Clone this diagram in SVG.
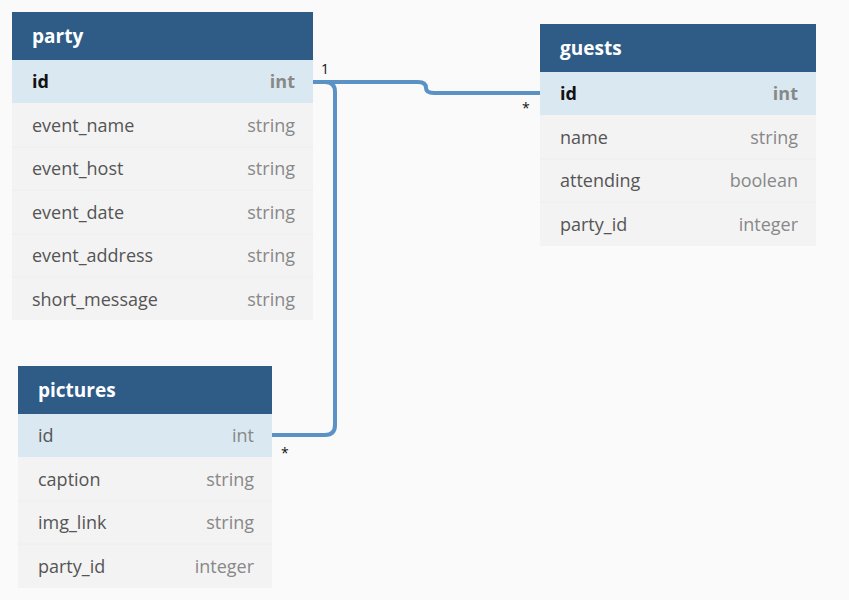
<svg xmlns="http://www.w3.org/2000/svg" width="849" height="600" viewBox="0 0 849 600">
<style>
.hdr{fill:#2e5c87}
.pk{fill:#d9e8f1}
.row{fill:#f3f3f3}
.sep{stroke:#eeeeee;stroke-width:1}
.title{font-family:"Open Sans",sans-serif;font-weight:bold;font-size:19px;fill:#ffffff}
.name{font-family:"Open Sans",sans-serif;font-size:18px;fill:#555555}
.type{font-family:"Open Sans",sans-serif;font-size:18px;fill:#888888;text-anchor:end}
.pkname{font-family:"Open Sans",sans-serif;font-size:18px;font-weight:bold;fill:#111111}
.pktype{font-family:"Open Sans",sans-serif;font-size:18px;font-weight:bold;fill:#888888;text-anchor:end}
.conn{fill:none;stroke:#5a92c6;stroke-width:4}
.card{font-family:"Open Sans",sans-serif;font-size:14px;fill:#111111}
</style>
<rect width="849" height="600" fill="#fafafa"/>
<g id="connectors">
<path class="conn" d="M313,82 H418 Q426,82 426,88 Q426,93 434,93 H540"/>
<path class="conn" d="M313,82 H325 Q335,82 335,92 V425 Q335,435 325,435 H272"/>
<text class="card" x="321" y="74">1</text>
<text class="card" x="522" y="113">*</text>
<text class="card" x="281" y="458">*</text>
</g>
<g id="party">
<rect class="hdr" x="12" y="12" width="301" height="48"/>
<text class="title" x="32" y="43">party</text>
<rect class="pk" x="12" y="60" width="301" height="43"/>
<text class="pkname" x="32" y="88">id</text>
<text class="pktype" x="295" y="88">int</text>
<rect class="row" x="12" y="103" width="301" height="217"/>
<line class="sep" x1="12" y1="147" x2="313" y2="147"/>
<line class="sep" x1="12" y1="190" x2="313" y2="190"/>
<line class="sep" x1="12" y1="234" x2="313" y2="234"/>
<line class="sep" x1="12" y1="277" x2="313" y2="277"/>
<text class="name" x="32" y="132">event_name</text>
<text class="type" x="295" y="132">string</text>
<text class="name" x="32" y="175">event_host</text>
<text class="type" x="295" y="175">string</text>
<text class="name" x="32" y="219">event_date</text>
<text class="type" x="295" y="219">string</text>
<text class="name" x="32" y="262">event_address</text>
<text class="type" x="295" y="262">string</text>
<text class="name" x="32" y="306">short_message</text>
<text class="type" x="295" y="306">string</text>
</g>
<g id="guests">
<rect class="hdr" x="540" y="24" width="276" height="48"/>
<text class="title" x="560" y="55">guests</text>
<rect class="pk" x="540" y="72" width="276" height="43"/>
<text class="pkname" x="560" y="100">id</text>
<text class="pktype" x="798" y="100">int</text>
<rect class="row" x="540" y="115" width="276" height="131"/>
<line class="sep" x1="540" y1="159" x2="816" y2="159"/>
<line class="sep" x1="540" y1="202" x2="816" y2="202"/>
<text class="name" x="560" y="144">name</text>
<text class="type" x="798" y="144">string</text>
<text class="name" x="560" y="187">attending</text>
<text class="type" x="798" y="187">boolean</text>
<text class="name" x="560" y="231">party_id</text>
<text class="type" x="798" y="231">integer</text>
</g>
<g id="pictures">
<rect class="hdr" x="18" y="366" width="254" height="48"/>
<text class="title" x="38" y="397">pictures</text>
<rect class="pk" x="18" y="414" width="254" height="43"/>
<text class="name" x="38" y="442">id</text>
<text class="type" x="254" y="442">int</text>
<rect class="row" x="18" y="457" width="254" height="131"/>
<line class="sep" x1="18" y1="501" x2="272" y2="501"/>
<line class="sep" x1="18" y1="544" x2="272" y2="544"/>
<text class="name" x="38" y="486">caption</text>
<text class="type" x="254" y="486">string</text>
<text class="name" x="38" y="529">img_link</text>
<text class="type" x="254" y="529">string</text>
<text class="name" x="38" y="573">party_id</text>
<text class="type" x="254" y="573">integer</text>
</g>
</svg>
